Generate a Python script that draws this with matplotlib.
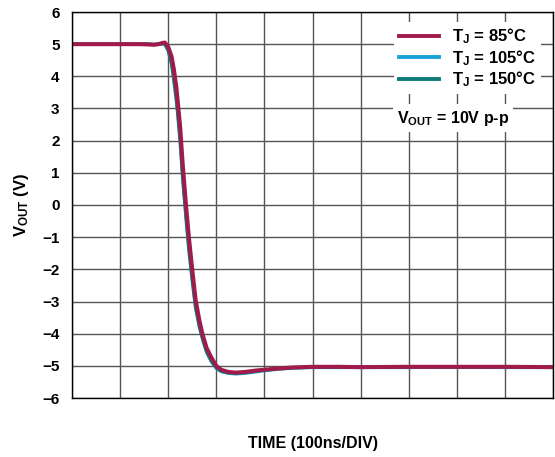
import numpy as np
import matplotlib
matplotlib.use('Agg')
import matplotlib.pyplot as plt

# time in divisions (100ns/DIV)
time = [0, 0.5, 1.0, 1.4, 1.6, 1.7, 1.8, 1.88, 1.93, 2.0, 2.07, 2.12, 2.17, 2.2,
        2.25, 2.3, 2.37, 2.43, 2.5, 2.57, 2.65, 2.72, 2.8, 2.9, 3.0, 3.1, 3.25,
        3.4, 3.6, 3.8, 4.0, 4.3, 4.6, 5.0, 5.5, 6.0, 7.0, 8.0, 9.0, 10.0]

v_85 = [5.0, 5.0, 5.0, 5.0, 4.99, 4.98, 5.0, 5.04, 5.05, 4.92, 4.62, 4.2, 3.65, 3.2,
        2.4, 1.3, 0.0, -1.0, -2.0, -2.95, -3.6, -4.05, -4.45, -4.75, -5.0, -5.12, -5.19,
        -5.21, -5.19, -5.15, -5.12, -5.08, -5.05, -5.03, -5.03, -5.04, -5.03, -5.03, -5.03, -5.04]

v_105 = [5.0, 5.0, 5.0, 5.0, 5.0, 4.99, 5.0, 5.02, 5.02, 4.85, 4.45, 3.95, 3.35, 2.9,
         2.05, 0.95, -0.3, -1.3, -2.25, -3.15, -3.75, -4.15, -4.55, -4.85, -5.06, -5.17, -5.23,
         -5.25, -5.23, -5.19, -5.15, -5.1, -5.07, -5.05, -5.05, -5.05, -5.05, -5.04, -5.05, -5.05]

v_150 = [5.0, 5.0, 5.0, 5.0, 5.0, 4.99, 5.0, 5.01, 5.0, 4.8, 4.38, 3.85, 3.25, 2.8,
         1.95, 0.85, -0.4, -1.4, -2.35, -3.2, -3.8, -4.2, -4.58, -4.87, -5.07, -5.17, -5.22,
         -5.23, -5.21, -5.17, -5.13, -5.09, -5.06, -5.04, -5.04, -5.04, -5.04, -5.04, -5.04, -5.04]

labels = [r'$\mathregular{T_J}$ = 85°C', r'$\mathregular{T_J}$ = 105°C', r'$\mathregular{T_J}$ = 150°C']
colors = ['#A01A4C', '#1BA3D9', '#0F7B79']

plt.rcParams['font.family'] = 'Liberation Sans'
plt.rcParams['font.weight'] = 'bold'
plt.rcParams['mathtext.fontset'] = 'custom'
plt.rcParams['mathtext.rm'] = 'Liberation Sans:bold'
plt.rcParams['mathtext.it'] = 'Liberation Sans:bold'
plt.rcParams['mathtext.bf'] = 'Liberation Sans:bold'


def run():
    fig, ax = plt.subplots(figsize=(5.55, 4.57), dpi=100)
    fig.subplots_adjust(left=72/555, right=553/555, top=1-12/457, bottom=1-398/457)

    l105, = ax.plot(time, v_105, color=colors[1], lw=2.4, label=labels[1])
    l150, = ax.plot(time, v_150, color=colors[2], lw=2.4, label=labels[2])
    l85, = ax.plot(time, v_85, color=colors[0], lw=2.9, label=labels[0])

    ax.set_xlim(0, 10)
    ax.set_ylim(-6, 6)
    ax.set_xticks(np.arange(0, 11))
    ax.set_xticklabels([])
    ax.set_yticks(np.arange(-6, 7))
    ax.tick_params(length=0, labelsize=11, pad=9)
    ax.grid(True, color='#555555', lw=1.0)
    ax.set_axisbelow(True)
    for s in ax.spines.values():
        s.set_linewidth(1.0)

    ax.set_xlabel('TIME (100ns/DIV)', fontsize=11.5, fontweight='bold', va='center')
    ax.xaxis.set_label_coords(0.5, -0.117)
    ax.set_ylabel(r'$\mathregular{V_{OUT}}$ (V)', fontsize=12, fontweight='bold', va='center')
    ax.yaxis.set_label_coords(-0.104, 0.5)

    leg = ax.legend(handles=[l85, l105, l150], loc='upper right',
                    bbox_to_anchor=(0.975, 0.975), fontsize=12, frameon=True,
                    fancybox=False, framealpha=1, edgecolor='none',
                    handlelength=2.4, handletextpad=0.8, labelspacing=0.1,
                    borderpad=0.3, borderaxespad=0)
    for line in leg.get_lines():
        line.set_linewidth(2.8)

    ax.text(0.792, 0.725, r'$\mathregular{V_{OUT}}$ = 10V p-p', transform=ax.transAxes,
            ha='center', va='center', fontsize=11.5, fontweight='bold',
            bbox=dict(facecolor='white', edgecolor='none', pad=3))

    fig.savefig('out.png', dpi=100)


if __name__ == '__main__':
    run()
